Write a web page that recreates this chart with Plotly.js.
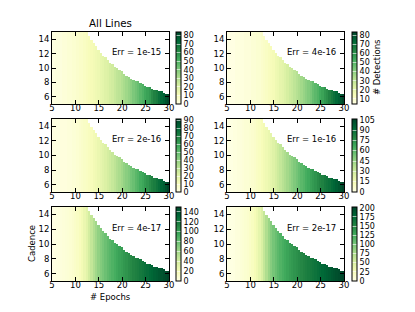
<!DOCTYPE html>
<html>
<head>
<meta charset="utf-8">
<script src="https://cdn.plot.ly/plotly-3.0.1.min.js"></script>
<style>html,body{margin:0;padding:0;background:#fff;}#chart{width:415px;height:312px;}</style>
</head>
<body>
<div id="chart"></div>
<script>
// Columns (# Epochs) and rows (Cadence)
const epochs = [5,5.5,6,6.5,7,7.5,8,8.5,9,9.5,10,10.5,11,11.5,12,12.5,13,13.5,14,14.5,15,15.5,16,16.5,17,17.5,18,18.5,19,19.5,20,20.5,21,21.5,22,22.5,23,23.5,24,24.5,25,25.5,26,26.5,27,27.5,28,28.5,29,29.5,30];
const cadence = [5,5.2,5.4,5.6,5.8,6,6.2,6.4,6.6,6.8,7,7.2,7.4,7.6,7.8,8,8.2,8.4,8.6,8.8,9,9.2,9.4,9.6,9.8,10,10.2,10.4,10.6,10.8,11,11.2,11.4,11.6,11.8,12,12.2,12.4,12.6,12.8,13,13.2,13.4,13.6,13.8,14,14.2,14.4,14.6,14.8,15];
// Highest cadence that is filled in each epoch column
const maxCadence = [15,15,15,15,15,15,15,15,15,15,15,15,15,15,15,15,14.5,13.9,13.4,13.0,12.5,12.1,11.75,11.4,11.05,10.75,10.45,10.15,9.9,9.65,9.4,9.17,8.95,8.74,8.55,8.36,8.17,8.0,7.83,7.67,7.52,7.37,7.23,7.09,6.96,6.84,6.71,6.6,6.48,6.37,6.27];

// # Detections per epoch column, per panel
const det_1e15 = [1,1,2,2,2,3,3,4,4,5,5,6,7,7,8,9,10,11,12,13,14,16,17,19,20,22,23,25,27,28,30,32,34,36,38,41,43,45,48,50,53,55,57,61,64,66,70,73,76,80,83];
const det_4e16 = [5,5,5,5,6,6,6,6,7,7,7,8,8,9,9,10,11,12,13,14,15,17,18,20,21,23,25,27,28,30,32,34,36,38,40,42,44,47,49,51,54,56,59,61,64,67,70,73,76,79,83];
const det_2e16 = [0,1,1,1,2,2,2,3,3,4,4,5,6,7,8,9,10,11,13,14,16,18,20,22,24,26,28,30,33,35,37,40,42,44,47,49,52,54,57,59,62,64,67,70,72,75,78,81,84,88,92];
const det_1e16 = [0,1,1,2,2,3,3,4,5,5,6,7,8,10,11,13,15,17,19,21,24,27,30,33,36,39,42,45,48,51,54,57,60,62,65,67,70,72,74,77,79,81,84,86,88,91,93,96,99,102,106];
const det_4e17 = [0,1,2,3,4,5,6,7,8,10,12,14,17,21,26,32,40,47,54,60,66,71,75,79,83,86,89,92,95,98,100,103,105,108,110,113,115,117,120,122,125,127,130,132,135,137,140,142,145,147,150];
const det_2e17 = [0,1,2,3,5,6,8,10,12,14,17,21,26,32,40,50,62,74,85,94,102,108,114,119,123,127,131,135,138,141,144,147,150,153,156,159,161,164,167,170,173,176,179,182,185,188,191,194,197,200,203];

const panelLabels = ["Err = 1e-15","Err = 4e-16","Err = 2e-16","Err = 1e-16","Err = 4e-17","Err = 2e-17"];
const panelValues = [det_1e15, det_4e16, det_2e16, det_1e16, det_4e17, det_2e17];
const cbMin = [0, 4.5, 0, 0, 0, 0];
const cbMax = [84, 83.5, 92, 106, 150, 202];
const cbTicks = [
  [0,10,20,30,40,50,60,70,80],
  [10,20,30,40,50,60,70,80],
  [0,10,20,30,40,50,60,70,80,90],
  [0,15,30,45,60,75,90,105],
  [0,20,40,60,80,100,120,140],
  [0,25,50,75,100,125,150,175,200]
];
const xTicks = [5,10,15,20,25,30];
const yTicks = [6,8,10,12,14];

const YlGn = [[0,'#ffffe5'],[0.125,'#f7fcb9'],[0.25,'#d9f0a3'],[0.375,'#addd8e'],[0.5,'#78c679'],[0.625,'#41ab5d'],[0.75,'#238443'],[0.875,'#006837'],[1,'#004529']];

const W = 415, H = 312;
const colX = [[52,169],[227,344]];
const cbX = [176,352];
const rowY = [[32,104],[119,192],[207,281]];
const font = {family:'DejaVu Sans, sans-serif', size:8.5, color:'#000000'};
const cbFont = {family:'DejaVu Sans, sans-serif', size:8, color:'#000000'};

const traces = [];
const layout = {
  width: W, height: H,
  margin: {l:0,r:0,t:0,b:0},
  paper_bgcolor:'#fff', plot_bgcolor:'#fff',
  font: font,
  showlegend:false,
  annotations: []
};

for (let i = 0; i < 6; i++) {
  const col = i % 2, row = Math.floor(i / 2);
  const vals = panelValues[i];
  const z = cadence.map(c => epochs.map((e, j) => (c <= maxCadence[j] ? vals[j] : null)));
  const n = i === 0 ? '' : String(i + 1);
  const top = 1 - rowY[row][0] / H, bot = 1 - rowY[row][1] / H;
  const cb = {
    x: cbX[col] / W, xanchor: 'left', xref: 'paper',
    y: top, yanchor: 'top', yref: 'paper',
    len: top - bot, lenmode: 'fraction',
    thickness: 5, thicknessmode: 'pixels',
    xpad: 0, ypad: 0,
    outlinewidth: 1, outlinecolor: '#000',
    tickmode: 'array', tickvals: cbTicks[i],
    ticks: 'inside', ticklen: 5, tickcolor: 'rgba(255,255,255,0.6)',
    tickfont: cbFont
  };
  traces.push({
    type: 'heatmap', x: epochs, y: cadence, z: z,
    colorscale: YlGn, zmin: cbMin[i], zmax: cbMax[i],
    zsmooth: false, hoverinfo: 'skip',
    xaxis: 'x' + n, yaxis: 'y' + n,
    colorbar: cb
  });
  const axCommon = {
    showline: true, linecolor: '#000', linewidth: 1, mirror: 'ticks',
    ticks: 'inside', ticklen: 4, tickcolor: '#000', tickwidth: 1,
    showgrid: false, zeroline: false, tickfont: font, fixedrange: true
  };
  layout['xaxis' + n] = Object.assign({}, axCommon, {
    domain: [colX[col][0] / W, colX[col][1] / W], range: [5, 30],
    tickmode: 'array', tickvals: xTicks, anchor: 'y' + n,
    ticklabelstandoff: -4
  });
  layout['yaxis' + n] = Object.assign({}, axCommon, {
    domain: [bot, top], range: [5, 15],
    tickmode: 'array', tickvals: yTicks, anchor: 'x' + n
  });
  layout.annotations.push({
    text: panelLabels[i], xref: 'x' + n + ' domain', yref: 'y' + n + ' domain',
    x: 0.95, y: 0.72, xanchor: 'right', yanchor: 'middle', showarrow: false, font: font
  });
}

layout.annotations.push({text:'All Lines', xref:'paper', yref:'paper', x:110/W, y:1-23/H, xanchor:'center', yanchor:'middle', showarrow:false, font:{family:font.family, size:10.3, color:'#000000'}});
layout.annotations.push({text:'Cadence', xref:'paper', yref:'paper', x:32/W, y:1-244/H, xanchor:'center', yanchor:'middle', textangle:-90, showarrow:false, font:font});
layout.annotations.push({text:'# Epochs', xref:'paper', yref:'paper', x:110/W, y:1-297/H, xanchor:'center', yanchor:'middle', showarrow:false, font:font});
layout.annotations.push({text:'# Detections', xref:'paper', yref:'paper', x:377/W, y:1-67/H, xanchor:'center', yanchor:'middle', textangle:-90, showarrow:false, font:font});

Plotly.newPlot('chart', traces, layout, {staticPlot:true, displayModeBar:false});
</script>
</body>
</html>
